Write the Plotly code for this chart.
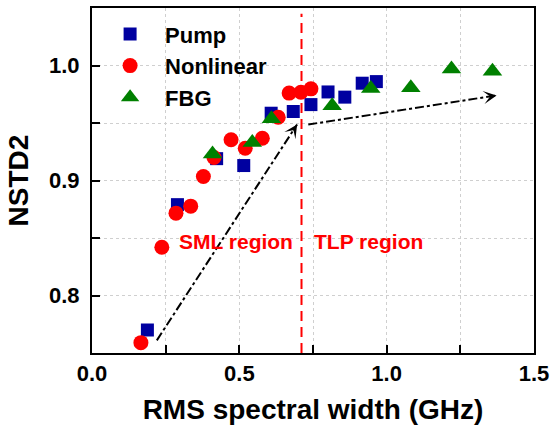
import plotly.graph_objects as go

# ---- data ----
pump_x = [0.188, 0.290, 0.423, 0.515, 0.608, 0.683, 0.743, 0.801, 0.858, 0.917, 0.965]
pump_y = [0.770, 0.879, 0.919, 0.913, 0.9585, 0.960, 0.966, 0.977, 0.9725, 0.9846, 0.986]

nonlin_x = [0.166, 0.237, 0.285, 0.335, 0.378, 0.414, 0.472, 0.520, 0.578, 0.632, 0.669, 0.709, 0.743]
nonlin_y = [0.759, 0.842, 0.8716, 0.8777, 0.9035, 0.920, 0.9354, 0.928, 0.9368, 0.955, 0.976, 0.9768, 0.9797]

fbg_x = [0.409, 0.544, 0.609, 0.815, 0.946, 1.082, 1.220, 1.359]
fbg_y = [0.923, 0.933, 0.9536, 0.965, 0.980, 0.9806, 0.997, 0.995]

boundary_x = 0.711
arrow1_x = [0.220, 0.696]
arrow1_y = [0.761, 0.9487]
arrow2_x = [0.734, 1.373]
arrow2_y = [0.9487, 0.974]

region_labels = ["SML region", "TLP region"]
region_x = [0.487, 0.940]
region_y = [0.847, 0.847]

x_ticks = [0.0, 0.5, 1.0, 1.5]
y_ticks = [0.8, 0.9, 1.0]

FONT = "Arial, Liberation Sans, sans-serif"

fig = go.Figure()

fig.add_trace(go.Scatter(x=pump_x, y=pump_y, mode="markers", name="<b>Pump</b>",
                         marker=dict(symbol="square", size=13, color="#0000A0")))
fig.add_trace(go.Scatter(x=nonlin_x, y=nonlin_y, mode="markers", name="<b>Nonlinear</b>",
                         marker=dict(symbol="circle", size=15, color="#FF0000")))
fig.add_trace(go.Scatter(x=fbg_x, y=fbg_y, mode="markers", name="<b>FBG</b>",
                         marker=dict(symbol="triangle-up", size=17, color="#008000")))

for ax_, ay_ in [(arrow1_x, arrow1_y), (arrow2_x, arrow2_y)]:
    fig.add_trace(go.Scatter(x=ax_, y=ay_, mode="lines", showlegend=False,
                             line=dict(color="black", width=2, dash="dashdot"),
                             hoverinfo="skip"))
    # arrow head
    fx = ax_[1] - (ax_[1] - ax_[0]) * 0.03
    fy = ay_[1] - (ay_[1] - ay_[0]) * 0.03
    fig.add_annotation(x=ax_[1], y=ay_[1], ax=fx, ay=fy, axref="x", ayref="y",
                       xref="x", yref="y", showarrow=True, arrowhead=3,
                       arrowsize=1.1, arrowwidth=2, arrowcolor="black", text="")

fig.add_shape(type="line", xref="x", yref="y", x0=boundary_x, x1=boundary_x,
              y0=0.75, y1=1.045, line=dict(color="#FF0000", width=2, dash="10px,6px"))

for t, x, y in zip(region_labels, region_x, region_y):
    fig.add_annotation(x=x, y=y, xref="x", yref="y", text="<b>%s</b>" % t,
                       showarrow=False, font=dict(family=FONT, size=21, color="#FF0000"))

axis_common = dict(
    showline=True, linecolor="black", linewidth=2, mirror=True,
    ticks="inside", ticklen=8, tickwidth=2, tickcolor="black",
    showgrid=True, gridcolor="#CFCFCF", gridwidth=1, griddash="dot",
    zeroline=False,
    tickfont=dict(family=FONT, size=22, color="black"),
)

fig.update_xaxes(
    range=[0, 1.5], tickvals=x_ticks, ticktext=["<b>%.1f</b>" % v for v in x_ticks],
    minor=dict(dtick=0.25, tick0=0, ticks="inside", ticklen=8, tickwidth=2, tickcolor="black",
               showgrid=True, gridcolor="#CFCFCF", gridwidth=1, griddash="dot"),
    title=dict(text="<b>RMS spectral width (GHz)</b>", font=dict(family=FONT, size=28, color="black"),
               standoff=14),
    ticklabelstandoff=0,
    **axis_common)
fig.update_yaxes(
    range=[0.75, 1.05], tickvals=y_ticks, ticktext=["<b>%.1f</b>" % v for v in y_ticks],
    minor=dict(dtick=0.05, tick0=0.75, ticks="inside", ticklen=8, tickwidth=2, tickcolor="black",
               showgrid=True, gridcolor="#CFCFCF", gridwidth=1, griddash="dot"),
    title=dict(text="<b>NSTD2</b>", font=dict(family=FONT, size=28, color="black"),
               standoff=12),
    ticklabelstandoff=6,
    **axis_common)

fig.update_layout(
    width=552, height=430,
    margin=dict(l=92, r=18, t=8, b=77, autoexpand=False),
    plot_bgcolor="white", paper_bgcolor="white",
    font=dict(family=FONT, color="black"),
    legend=dict(x=0.007, y=0.985, xanchor="left", yanchor="top",
                bgcolor="rgba(0,0,0,0)", itemwidth=60,
                font=dict(family=FONT, size=22, color="black")),
)

fig.write_html("out.html")
